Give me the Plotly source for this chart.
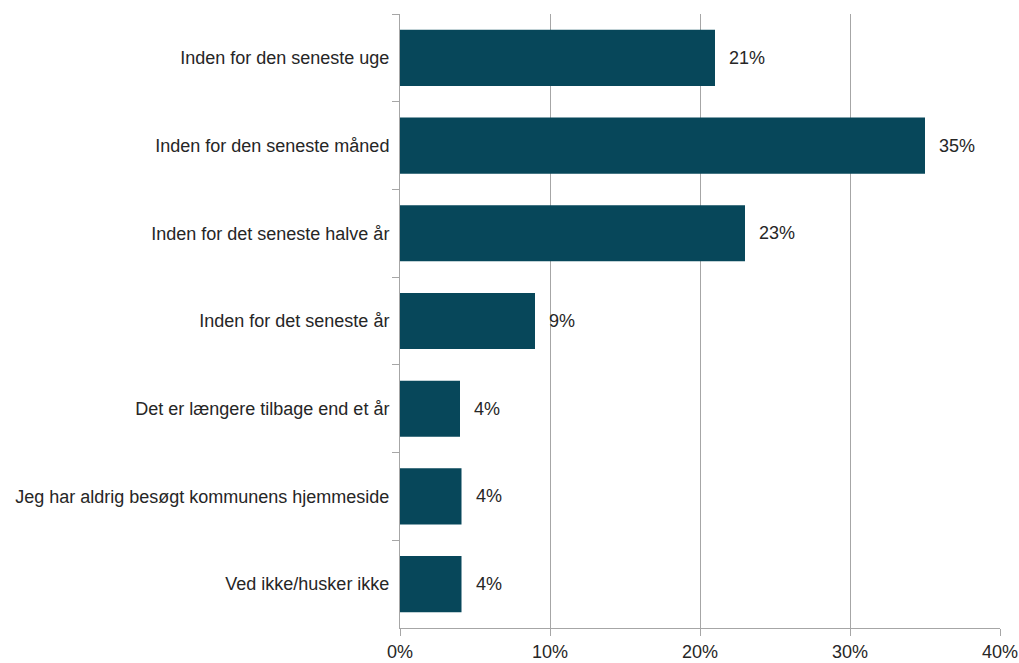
import plotly.graph_objects as go

# Survey answers: when did you last visit the municipality's website?
categories = [
    "Inden for den seneste uge",
    "Inden for den seneste måned",
    "Inden for det seneste halve år",
    "Inden for det seneste år",
    "Det er længere tilbage end et år",
    "Jeg har aldrig besøgt kommunens hjemmeside",
    "Ved ikke/husker ikke",
]
shares = [21, 35, 23, 9, 4, 4.1, 4.1]
x_ticks = [0, 10, 20, 30, 40]
x_tick_labels = ["0%", "10%", "20%", "30%", "40%"]

FONT = "Liberation Sans Narrow, Arial Narrow, Liberation Sans, Arial, sans-serif"
TEXT_COLOR = "#262626"
BAR_COLOR = "#07475A"
GRID_COLOR = "#A6A6A6"
FONT_SIZE = 18

fig = go.Figure(
    go.Bar(
        x=shares,
        y=categories,
        orientation="h",
        width=0.64,
        marker=dict(color=BAR_COLOR, line=dict(width=0)),
        hoverinfo="skip",
    )
)

# value labels to the right of each bar
for cat, val in zip(categories, shares):
    fig.add_annotation(
        x=val, y=cat, text=f"{round(val)}%",
        xanchor="left", yanchor="middle", xshift=12, showarrow=False,
        font=dict(family=FONT, size=FONT_SIZE, color=TEXT_COLOR),
    )

fig.update_layout(
    width=1019, height=663,
    margin=dict(l=400, r=19, t=14, b=35),
    paper_bgcolor="white", plot_bgcolor="white",
    showlegend=False,
    font=dict(family=FONT, size=FONT_SIZE, color=TEXT_COLOR),
)

fig.update_xaxes(
    range=[0, 40], automargin=False,
    tickvals=x_ticks, ticktext=x_tick_labels,
    showgrid=True, gridcolor=GRID_COLOR, gridwidth=1,
    showline=True, linecolor=GRID_COLOR, linewidth=1,
    ticks="outside", ticklen=7, tickcolor=GRID_COLOR,
    zeroline=False,
    tickfont=dict(family=FONT, size=FONT_SIZE, color=TEXT_COLOR),
)
fig.update_yaxes(
    categoryorder="array", categoryarray=categories,
    autorange="reversed", automargin=False,
    showgrid=False,
    showline=True, linecolor=GRID_COLOR, linewidth=1,
    ticks="outside", ticklen=7, tickcolor=GRID_COLOR, tickson="boundaries",
    ticklabelstandoff=6,
    tickfont=dict(family=FONT, size=FONT_SIZE, color=TEXT_COLOR),
)

fig.write_html("out.html")
